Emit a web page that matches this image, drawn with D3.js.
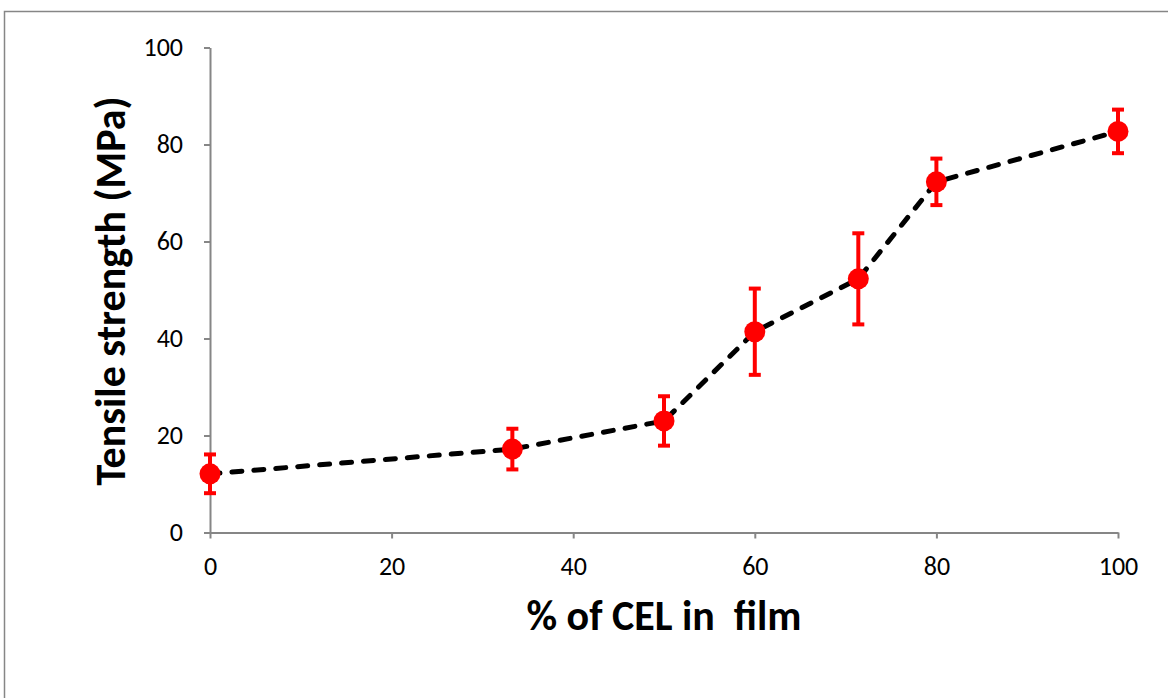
<!DOCTYPE html>
<html><head><meta charset="utf-8">
<script src="https://cdn.jsdelivr.net/npm/d3@7"></script>
<style>
html,body{margin:0;padding:0;background:#fff;}
svg{display:block;}
</style></head>
<body>
<svg id="c" width="1168" height="698"></svg>
<script>
const celPercent = [0, 33.3, 50, 60, 71.4, 80, 100];
const tensile = [12.1, 17.2, 23.0, 41.4, 52.3, 72.3, 82.7];
const errors = [4.2, 4.4, 5.3, 9.1, 9.6, 5.0, 4.7];
const xTicks = [0, 20, 40, 60, 80, 100];
const yTicks = [0, 20, 40, 60, 80, 100];
const xTitle = "% of CEL in  film";
const yTitle = "Tensile strength (MPa)";

const svg = d3.select("#c");
const font = "Carlito, Calibri, 'Open Sans', 'Noto Sans', sans-serif";
const axisColor = "#868686";

// outer frame
svg.append("rect").attr("x", 4.5).attr("y", 11.5).attr("width", 1200).attr("height", 720)
  .attr("fill", "none").attr("stroke", axisColor).attr("stroke-width", 1.5);

const x = d3.scaleLinear().domain([0, 100]).range([210, 1118]);
const y = d3.scaleLinear().domain([0, 100]).range([532.5, 47.5]);

const gx = svg.append("g").attr("transform", `translate(0,${y(0)})`)
  .call(d3.axisBottom(x).tickValues(xTicks).tickSize(6).tickPadding(18).tickSizeOuter(0));
const gy = svg.append("g").attr("transform", `translate(${x(0)},0)`)
  .call(d3.axisLeft(y).tickValues(yTicks).tickSize(6).tickPadding(21).tickSizeOuter(0));
[gx, gy].forEach(g => {
  g.select(".domain").attr("stroke", axisColor).attr("stroke-width", 2);
  g.selectAll(".tick line").attr("stroke", axisColor).attr("stroke-width", 2);
  g.selectAll(".tick text").attr("fill", "#000").style("font-family", font).style("font-size", "26px");
});

// dashed line
const line = d3.line().x((d, i) => x(celPercent[i])).y(d => y(d));
svg.append("path").datum(tensile).attr("d", line)
  .attr("fill", "none").attr("stroke", "#000").attr("stroke-width", 5)
  .attr("stroke-dasharray", "10,12").attr("stroke-linecap", "round");

// error bars
const eb = svg.append("g").attr("stroke", "#ff0000").attr("stroke-width", 4);
tensile.forEach((v, i) => {
  const cx = x(celPercent[i]);
  eb.append("line").attr("x1", cx).attr("x2", cx).attr("y1", y(v + errors[i])).attr("y2", y(v - errors[i]));
  eb.append("line").attr("x1", cx - 6).attr("x2", cx + 6).attr("y1", y(v + errors[i]) + 1).attr("y2", y(v + errors[i]) + 1);
  eb.append("line").attr("x1", cx - 6).attr("x2", cx + 6).attr("y1", y(v - errors[i]) - 1).attr("y2", y(v - errors[i]) - 1);
});

// markers
svg.append("g").selectAll("circle").data(tensile).join("circle")
  .attr("cx", (d, i) => x(celPercent[i])).attr("cy", d => y(d)).attr("r", 10.5)
  .attr("fill", "#ff0000");

// titles
svg.append("text").attr("x", 664).attr("y", 630).attr("text-anchor", "middle")
  .style("font-family", font).style("font-size", "42px").style("font-weight", "bold")
  .style("white-space", "pre").attr("xml:space", "preserve").text(xTitle);
svg.append("text").attr("transform", "translate(125,291) rotate(-90)").attr("text-anchor", "middle")
  .style("font-family", font).style("font-size", "42px").style("font-weight", "bold").text(yTitle);
</script>
</body></html>
